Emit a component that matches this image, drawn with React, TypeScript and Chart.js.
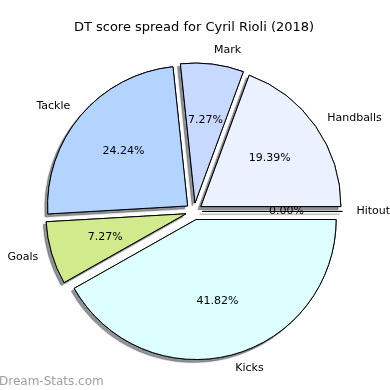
import React, { useEffect, useRef } from "react";
import { Chart, registerables } from "chart.js";

Chart.register(...registerables);

// Drawn clockwise from 3 o'clock (matplotlib's counter-clockwise order reversed)
const categories = ["Kicks", "Goals", "Tackle", "Mark", "Handballs", "Hitout"];
const scores = [69, 12, 40, 12, 32, 0];
const sliceColors = ["#DDFFFF", "#D1EB8C", "#B3D4FF", "#C7D9FF", "#EBF1FF", "#FFE4E4"];
const titleText = "DT score spread for Cyril Rioli (2018)";
const watermark = "Dream-Stats.com";

const EXPLODE = 0.06;
const FONT = "'DejaVu Sans', sans-serif";

const explodePlugin = {
  id: "explodePie",
  beforeDatasetDraw() {
    return false;
  },
  afterDatasetsDraw(chart: any) {
    const ctx: CanvasRenderingContext2D = chart.ctx;
    const meta = chart.getDatasetMeta(0);
    const arcs: any[] = meta.data;
    const total = scores.reduce((a, b) => a + b, 0);

    const drawPass = (shadow: boolean) => {
      arcs.forEach((arc) => {
        const R = arc.outerRadius;
        const mid = (arc.startAngle + arc.endAngle) / 2;
        const dx = Math.cos(mid) * EXPLODE * R;
        const dy = Math.sin(mid) * EXPLODE * R;
        ctx.save();
        if (shadow) {
          ctx.shadowColor = "rgba(55,60,65,0.55)";
          ctx.shadowOffsetX = -2.8;
          ctx.shadowOffsetY = 2.8;
          ctx.shadowBlur = 1;
        }
        ctx.translate(dx, dy);
        if (arc.endAngle - arc.startAngle <= 0) {
          ctx.strokeStyle = "#000";
          ctx.lineWidth = 1;
          ctx.beginPath();
          ctx.moveTo(arc.x, arc.y);
          ctx.lineTo(arc.x + Math.cos(mid) * R, arc.y + Math.sin(mid) * R);
          ctx.stroke();
        } else {
          arc.draw(ctx, chart.chartArea);
        }
        ctx.restore();
      });
    };
    drawPass(true);
    drawPass(false);

    ctx.save();
    ctx.fillStyle = "#000";
    ctx.font = `11px ${FONT}`;
    ctx.textBaseline = "middle";
    arcs.forEach((arc, i) => {
      const R = arc.outerRadius;
      const mid = (arc.startAngle + arc.endAngle) / 2;
      const cx = arc.x + Math.cos(mid) * EXPLODE * R;
      const cy = arc.y + Math.sin(mid) * EXPLODE * R;
      const lx = cx + Math.cos(mid) * 1.1 * R;
      const ly = cy + Math.sin(mid) * 1.1 * R;
      ctx.textAlign = lx > cx ? "left" : "right";
      ctx.fillText(categories[i], lx, ly);
      const px = cx + Math.cos(mid) * 0.6 * R;
      const py = cy + Math.sin(mid) * 0.6 * R;
      ctx.textAlign = "center";
      ctx.fillText(((scores[i] / total) * 100).toFixed(2) + "%", px, py);
    });
    ctx.restore();

    ctx.save();
    ctx.fillStyle = "#a0a0a0";
    ctx.font = `12px ${FONT}`;
    ctx.textAlign = "left";
    ctx.textBaseline = "alphabetic";
    ctx.fillText(watermark, -1, 385);
    ctx.restore();
  },
};

export default function App() {
  const ref = useRef<HTMLCanvasElement>(null);
  useEffect(() => {
    if (!ref.current) return;
    const chart = new Chart(ref.current, {
      type: "pie",
      data: {
        labels: categories,
        datasets: [
          {
            data: scores,
            backgroundColor: sliceColors,
            borderColor: "#000",
            borderWidth: 1,
          },
        ],
      },
      options: {
        animation: false,
        responsive: false,
        events: [],
        rotation: 90,
        radius: 140,
        layout: { padding: { left: 0, right: 2, top: 0, bottom: 10.8 } },
        plugins: {
          legend: { display: false },
          tooltip: { enabled: false },
          title: {
            display: true,
            text: titleText,
            color: "#000",
            font: { family: FONT, size: 13, weight: "normal" },
            padding: { top: 20, bottom: 8 },
          },
        },
      } as any,
      plugins: [explodePlugin],
    });
    return () => chart.destroy();
  }, []);
  return (
    <div style={{ position: "absolute", left: 0, top: 0, width: 390, height: 390, background: "#fff" }}>
      <canvas ref={ref} width={390} height={390} />
    </div>
  );
}
